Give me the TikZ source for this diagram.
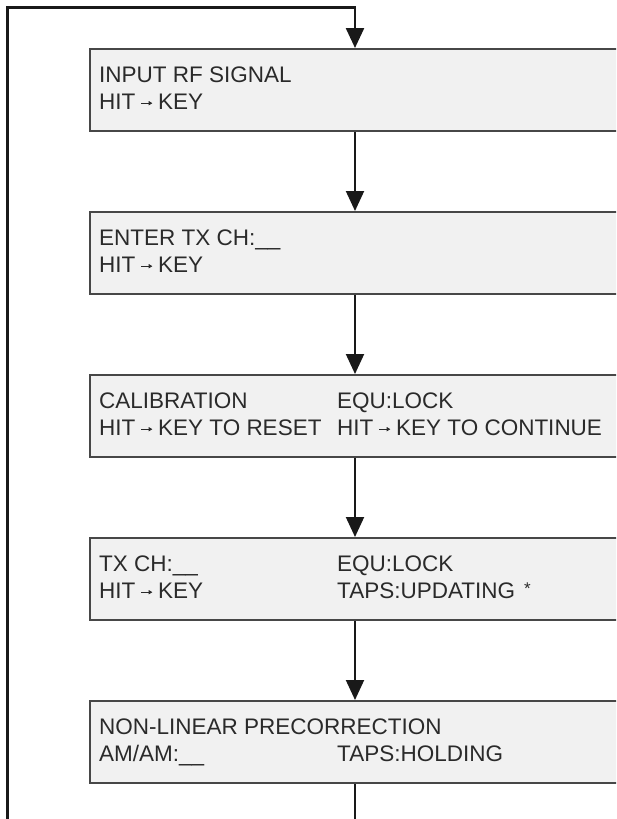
\documentclass[tikz,border=0pt]{standalone}
\usepackage{fontspec}
\setmainfont{Liberation Sans}
\usetikzlibrary{arrows.meta,calc}
\definecolor{boxfill}{HTML}{F1F1F1}
\definecolor{boxline}{HTML}{474747}
\definecolor{txt}{HTML}{2A2A2A}
\newcommand{\hk}{\tikz[baseline=0pt]\draw[line width=0.7pt,txt,-{Triangle[length=3.6pt,width=4.2pt]}] (0pt,5.8pt)--(11pt,5.8pt);}
\newcommand{\hitkey}{HIT\hspace{5.5pt}\hk\hspace{5.5pt}KEY}
\tikzset{
  box/.style={draw=boxline,fill=boxfill,line width=2pt,rectangle,minimum width=560pt,minimum height=82pt,anchor=north west,inner sep=0pt},
  lbl/.style={anchor=base west,inner sep=0pt,text=txt,font=\fontsize{22.5pt}{26pt}\selectfont},
  conn/.style={draw=black!90,line width=2pt,-{Triangle[length=20pt,width=18pt]}},
  loopline/.style={draw=black!90,line width=2.4pt,line join=miter,-{Triangle[length=20pt,width=18pt]}}
}
\begin{document}
\begin{tikzpicture}[x=1pt,y=-1pt]
\clip (0,0) rectangle (616,819);
\fill[white] (0,0) rectangle (616,819);
\coordinate (ax) at (355,0);
\coordinate (lb) at (7.5,840);
\coordinate (lt) at (7.5,7.5);
\coordinate (tt) at (355,7.5);
% boxes
\node[box] (b1) at (89,48) {};
\node[box] (b2) at (89,211) {};
\node[box] (b3) at (89,374) {};
\node[box] (b4) at (89,537) {};
\node[box] (b5) at (89,700) {};
% texts
\node[lbl] (t1a) at (99,82) {INPUT RF SIGNAL};
\node[lbl] (t1b) at (99,109) {\hitkey};
\node[lbl] (t2a) at (99,245) {ENTER TX CH:\_\_};
\node[lbl] (t2b) at (99,272) {\hitkey};
\node[lbl] (t3a) at (99,408) {CALIBRATION};
\node[lbl] (t3b) at (99,435) {\hitkey{} TO RESET};
\node[lbl] (t3c) at (337,408) {EQU:LOCK};
\node[lbl] (t3d) at (337,435) {\hitkey{} TO CONTINUE};
\node[lbl] (t4a) at (99,571) {TX CH:\_\_};
\node[lbl] (t4b) at (99,598) {\hitkey};
\node[lbl] (t4c) at (337,571) {EQU:LOCK};
\node[lbl] (t4d) at (337,598) {TAPS:UPDATING\hspace{9pt}\raisebox{4pt}{\fontsize{17pt}{17pt}\selectfont *}};
\node[lbl] (t5a) at (99,734) {NON-LINEAR PRECORRECTION};
\node[lbl] (t5b) at (99,761) {AM/AM:\_\_};
\node[lbl] (t5c) at (337,761) {TAPS:HOLDING};
% connectors
\draw[conn] (b1.south -| ax) -- (b2.north -| ax);
\draw[conn] (b2.south -| ax) -- (b3.north -| ax);
\draw[conn] (b3.south -| ax) -- (b4.north -| ax);
\draw[conn] (b4.south -| ax) -- (b5.north -| ax);
\draw[loopline] (b5.south -| ax) -- (ax |- lb) -- (lb) -- (lt) -- (tt) -- (b1.north -| ax);
\end{tikzpicture}
\end{document}
